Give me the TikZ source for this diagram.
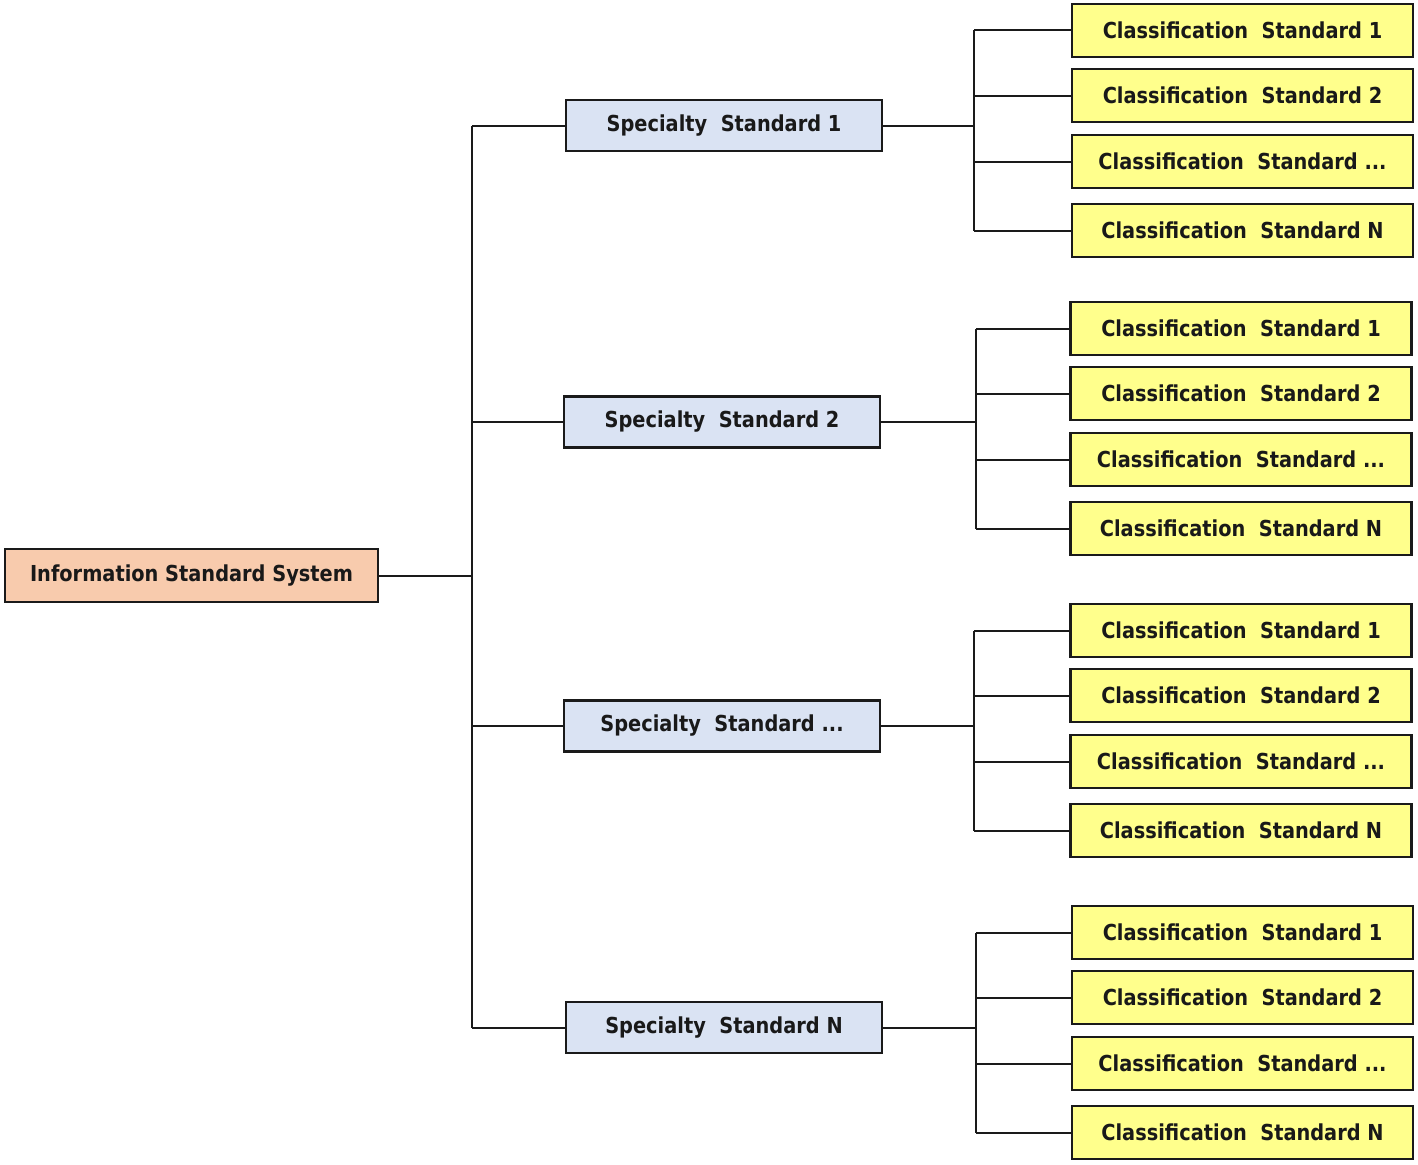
\documentclass[tikz,border=0pt]{standalone}
\usepackage{fontspec}
\setmainfont{DejaVu Sans}[FakeStretch=0.88]
\definecolor{salmon}{HTML}{F8CBAD}
\definecolor{paleblue}{HTML}{DAE3F3}
\definecolor{paleyellow}{HTML}{FFFF8C}
\definecolor{edge}{HTML}{1A1A1A}
\begin{document}
\begin{tikzpicture}[x=1pt,y=-1pt,
  box/.style={draw=edge,line width=2.2pt,inner sep=0pt,font=\fontsize{22}{26}\selectfont\bfseries,text=black!90},
  rootbox/.style={box,fill=salmon,minimum width=373pt,minimum height=53pt},
  specbox/.style={box,fill=paleblue,minimum width=316pt,minimum height=51pt},
  classbox/.style={box,fill=paleyellow,minimum width=341pt,minimum height=53pt},
  link/.style={draw=edge,line width=2pt}]
\useasboundingbox (0,0) rectangle (1418,1164);
\fill[white] (0,0) rectangle (1418,1164);
\node[rootbox] (root) at (191.5,575.5) {Information Standard System};
\node[specbox] (s1) at (724,125.5) {Specialty\ \ Standard 1};
\node[specbox] (s2) at (722,422) {Specialty\ \ Standard 2};
\node[specbox] (s3) at (722,726) {Specialty\ \ Standard ...};
\node[specbox] (s4) at (724,1027.5) {Specialty\ \ Standard N};
% class nodes
\foreach \g/\cx/\ya/\yb/\yc/\yd in {1/1242.5/30.5/95.5/161.5/230.5, 2/1241/328.5/393.5/459.5/528.5, 3/1241/630.5/695.5/761.5/830.5, 4/1242.5/932.5/997.5/1063.5/1132.5}{
  \node[classbox] (c\g a) at (\cx,\ya) {Classification\ \ Standard 1};
  \node[classbox] (c\g b) at (\cx,\yb) {Classification\ \ Standard 2};
  \node[classbox] (c\g c) at (\cx,\yc) {Classification\ \ Standard ...};
  \node[classbox] (c\g d) at (\cx,\yd) {Classification\ \ Standard N};
}
\coordinate (trunk) at (472,0);
\coordinate (b1) at (974,0);
\coordinate (b2) at (976,0);
\coordinate (b3) at (974,0);
\coordinate (b4) at (976,0);
% root connectors
\draw[link] (root.east) -- (root.east -| trunk);
\draw[link] (s1.west -| trunk) -- (s4.west -| trunk);
\foreach \s in {s1,s2,s3,s4}{\draw[link] (\s.west -| trunk) -- (\s.west);}
% specialty to classification
\foreach \g in {1,2,3,4}{
  \draw[link] (s\g.east) -- (s\g.east -| b\g);
  \draw[link] (c\g a.west -| b\g) -- (c\g d.west -| b\g);
  \foreach \k in {a,b,c,d}{\draw[link] (c\g\k.west -| b\g) -- (c\g\k.west);}
}
\end{tikzpicture}
\end{document}
